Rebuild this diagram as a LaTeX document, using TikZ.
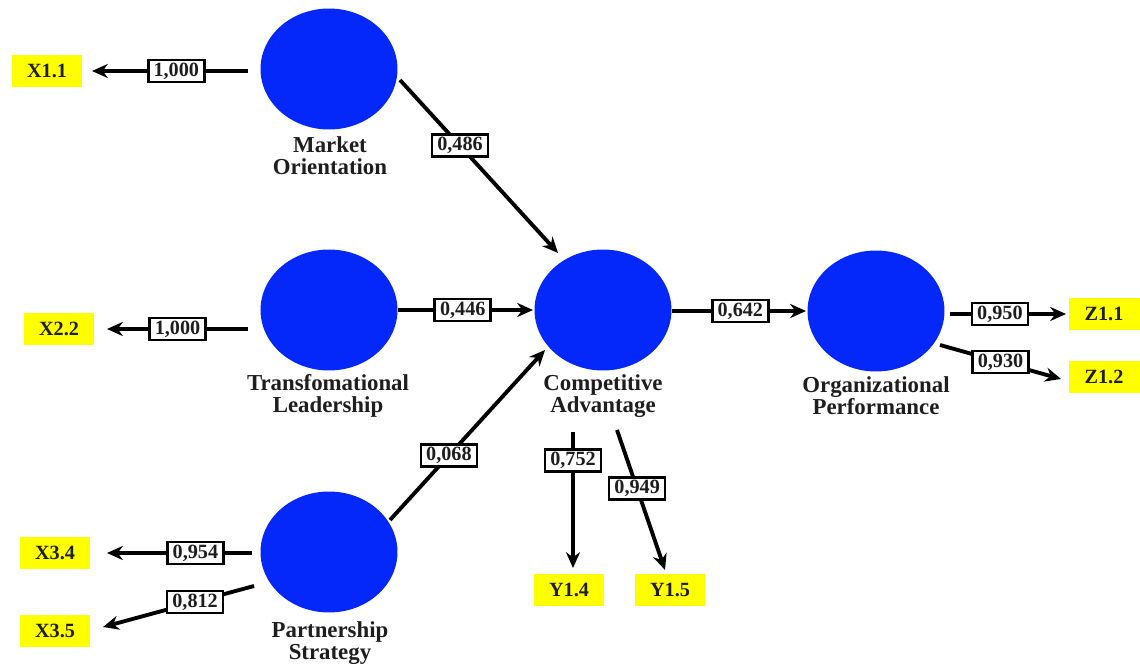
\documentclass[tikz,border=0pt]{standalone}
\usepackage{fontspec}
\setmainfont{Liberation Serif}
\usetikzlibrary{arrows.meta,shapes.geometric}
\definecolor{lvblue}{RGB}{5,40,250}
\definecolor{indyel}{RGB}{255,255,0}
\definecolor{txtdark}{RGB}{30,30,30}
\tikzset{
  x=0.02cm, y=-0.02cm,
  latent/.style={ellipse, fill=lvblue, draw=none, minimum width=2.74cm, minimum height=2.42cm},
  indicator/.style={rectangle, fill=indyel, draw=none, minimum width=1.42cm, minimum height=0.64cm, inner sep=0pt, font=\fontsize{11.5}{12}\selectfont\bfseries, text=txtdark},
  lvlabel/.style={align=center, font=\fontsize{13}{12.5}\selectfont\bfseries, text=txtdark},
  coef/.style={rectangle, fill=white, draw=black, line width=1.5pt, minimum width=1.12cm, minimum height=0.44cm, inner sep=1pt, font=\fontsize{11.5}{12}\selectfont\bfseries, text=txtdark},
  arr/.style={draw=black, line width=2.2pt, -{Stealth[length=9pt,width=8pt]}},
}
\begin{document}
\begin{tikzpicture}
\useasboundingbox (0,0) rectangle (1140,666);
% latent variables
\node[latent] (MO) at (329,69) {};
\node[latent] (TL) at (329,310) {};
\node[latent] (PS) at (329,552) {};
\node[latent] (CA) at (603,310) {};
\node[latent] (OP) at (876,311) {};
% names
\node[lvlabel] (MOl) at (330,156) {Market\\Orientation};
\node[lvlabel] (TLl) at (328,396) {Transfomational\\Leadership};
\node[lvlabel] (PSl) at (330,643) {Partnership\\Strategy};
\node[lvlabel] (CAl) at (603,396) {Competitive\\Advantage};
\node[lvlabel] (OPl) at (876,396) {Organizational\\Performance};
% indicators
\node[indicator] (X11) at (47,71) {X1.1};
\node[indicator] (X22) at (59,329) {X2.2};
\node[indicator] (X34) at (55,553) {X3.4};
\node[indicator] (X35) at (55,631) {X3.5};
\node[indicator] (Y14) at (569,590) {Y1.4};
\node[indicator] (Y15) at (670,590) {Y1.5};
\node[indicator] (Z11) at (1104,314) {Z1.1};
\node[indicator] (Z12) at (1104,377) {Z1.2};
% connector end points
\coordinate (mo-x) at (248,71);   \coordinate (x11-t) at (92,71);
\coordinate (tl-x) at (248,329);  \coordinate (x22-t) at (107,329);
\coordinate (ps-x4) at (252,553); \coordinate (x34-t) at (107,553);
\coordinate (ps-x5) at (254,586); \coordinate (x35-t) at (103,627);
\coordinate (mo-c) at (400,80);   \coordinate (ca-t1) at (558,253);
\coordinate (tl-c) at (398,310);  \coordinate (ca-t2) at (533,310);
\coordinate (ps-c) at (390,520);  \coordinate (ca-t3) at (545,350);
\coordinate (ca-o) at (672,311);  \coordinate (op-t) at (806,311);
\coordinate (op-z1) at (950,314); \coordinate (z11-t) at (1066,314);
\coordinate (op-z2) at (940,345); \coordinate (z12-t) at (1061,379);
\coordinate (ca-y4) at (573,432); \coordinate (y14-t) at (573,568);
\coordinate (ca-y5) at (617,430); \coordinate (y15-t) at (665,570);
% outer loadings
\draw[arr] (mo-x) -- node[coef, pos=0.46] (l1) {1,000} (x11-t);
\draw[arr] (tl-x) -- node[coef, pos=0.50] (l2) {1,000} (x22-t);
\draw[arr] (ps-x4) -- node[coef, pos=0.39] (l3) {0,954} (x34-t);
\draw[arr] (ps-x5) -- node[coef, pos=0.39] (l4) {0,812} (x35-t);
\draw[arr] (ca-y4) -- node[coef, pos=0.21] (l5) {0,752} (y14-t);
\draw[arr] (ca-y5) -- node[coef, pos=0.42] (l6) {0,949} (y15-t);
\draw[arr] (op-z1) -- node[coef, pos=0.43] (l7) {0,950} (z11-t);
\draw[arr] (op-z2) -- node[coef, pos=0.50] (l8) {0,930} (z12-t);
% path coefficients
\draw[arr] (mo-c) -- node[coef, pos=0.38] (p1) {0,486} (ca-t1);
\draw[arr] (tl-c) -- node[coef, pos=0.48] (p2) {0,446} (ca-t2);
\draw[arr] (ps-c) -- node[coef, pos=0.38] (p3) {0,068} (ca-t3);
\draw[arr] (ca-o) -- node[coef, pos=0.51] (p4) {0,642} (op-t);
\end{tikzpicture}
\end{document}
